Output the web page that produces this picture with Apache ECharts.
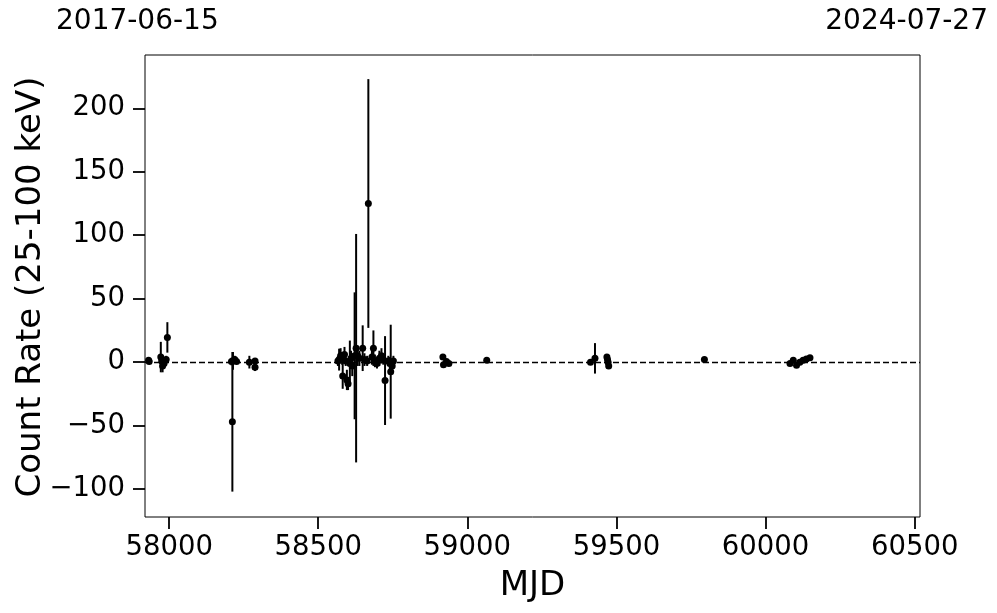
<!DOCTYPE html>
<html>
<head>
<meta charset="utf-8">
<script src="https://cdn.jsdelivr.net/npm/echarts@6/dist/echarts.min.js"></script>
<style>html,body{margin:0;padding:0;background:#fff;}#c{width:997px;height:613px;}</style>
</head>
<body>
<div id="c"></div>
<script>
const mjd = [57933, 57931, 57972, 57975, 57978, 57983, 57990, 57994,
  58209, 58212, 58214, 58220, 58226, 58269, 58288, 58288,
  58566, 58570, 58575, 58580, 58582, 58588, 58592, 58596, 58600, 58606, 58610, 58614,
  58622, 58627, 58632, 58638, 58649, 58655, 58664, 58668, 58680, 58685, 58690, 58697,
  58705, 58712, 58718, 58724, 58735, 58740, 58743, 58748, 58752,
  58918, 58920, 58930, 58938, 59065, 59413, 59428, 59468, 59470, 59472, 59474,
  59795, 60082, 60093, 60104, 60115, 60126, 60137, 60149];
const rate = [0.5, 1.5, 4, 1, -3, -1, 2, 19.5,
  0.5, -47, 1, 2, 0.5, 0, 1, -4,
  1, 2, 5, 3, -11, 6, 1, -14, -17, -1, 3, -3,
  5, 11, 5, 3, 11, 2, 1, 125, 4, 11, 1, -1,
  3, 5, 2, -14.5, 1, -1, -7.5, -3, 1,
  4, -2, 0.5, -1, 1.5, 0, 3, 4, 2, 0, -3,
  2, -1, 1.5, -2.5, 0, 1.5, 2.5, 3.5];
const err = [2, 2, 12, 3, 5, 4, 3, 12,
  3, 55, 7, 3, 2, 5, 2, 3,
  4, 8.6, 6, 5, 10, 6, 4, 8, 5, 18, 6, 8,
  50, 90, 8, 6, 18, 5, 4, 98, 6, 14, 5, 4,
  6, 6, 4, 35, 4, 5, 37, 5, 4,
  2, 2, 2, 2, 2, 2, 12, 2, 3, 3, 2,
  2, 2, 2, 2, 2, 2, 2, 2];
const xTicks = [58000, 58500, 59000, 59500, 60000, 60500];
const yTicks = [-100, -50, 0, 50, 100, 150, 200];
const topLabels = ['2017-06-15', '2024-07-27'];
const yTitle = 'Count Rate (25-100 keV)';

const pts = mjd.map((m, i) => [m, rate[i], err[i]]);
const FONT = 'DejaVu Sans';
const chart = echarts.init(document.getElementById('c'));
chart.setOption({
  animation: false,
  backgroundColor: '#fff',
  grid: { left: 145, right: 77, top: 55, bottom: 96, show: true, borderColor: '#000', borderWidth: 1, backgroundColor: 'transparent', containLabel: false, outerBoundsMode: 'none' },
  xAxis: {
    type: 'value', min: 57919, max: 60518,
    name: 'MJD', nameLocation: 'middle', nameGap: 52,
    nameTextStyle: { fontFamily: FONT, fontSize: 34, color: '#000' },
    axisLine: { show: false, onZero: false },
    axisTick: { show: true, inside: false, length: 12, lineStyle: { color: '#000', width: 1.8 }, customValues: xTicks },
    axisLabel: { customValues: xTicks, fontFamily: FONT, fontSize: 27.5, color: '#000', margin: 17, formatter: v => String(v) },
    splitLine: { show: false }
  },
  yAxis: {
    type: 'value', min: -122, max: 242,
    axisLine: { show: false, onZero: false },
    axisTick: { show: true, inside: false, length: 12, lineStyle: { color: '#000', width: 1.8 }, customValues: yTicks },
    axisLabel: { customValues: yTicks, fontFamily: FONT, fontSize: 27.5, color: '#000', margin: 20, formatter: v => String(v).replace('-', '\u2212') },
    splitLine: { show: false }
  },
  graphic: [
    { type: 'text', left: 56, top: 8, style: { text: topLabels[0], font: '28px "DejaVu Sans"', fill: '#000' } },
    { type: 'text', right: 9, top: 8, style: { text: topLabels[1], font: '28px "DejaVu Sans"', fill: '#000' } },
    { type: 'text', x: 31, y: 287, rotation: Math.PI / 2, style: { text: yTitle, font: '34px "DejaVu Sans"', fill: '#000', align: 'center', verticalAlign: 'middle' } }
  ],
  series: [
    {
      type: 'custom',
      data: pts,
      encode: { x: 0, y: [1, 2] },
      renderItem: function (params, api) {
        const x = api.value(0), y = api.value(1), e = api.value(2);
        const p1 = api.coord([x, y - e]);
        const p2 = api.coord([x, y + e]);
        return { type: 'line', shape: { x1: p1[0], y1: p1[1], x2: p2[0], y2: p2[1] }, style: { stroke: '#000', lineWidth: 2 } };
      },
      z: 2
    },
    {
      type: 'scatter',
      data: pts.map(p => [p[0], p[1]]),
      symbol: 'circle', symbolSize: 7,
      itemStyle: { color: '#000', opacity: 1 },
      z: 3,
      markLine: {
        silent: true, symbol: 'none', label: { show: false },
        lineStyle: { color: '#000', type: [6, 3], width: 1.4, opacity: 1 },
        data: [{ yAxis: 0 }]
      }
    }
  ]
});
</script>
</body>
</html>
